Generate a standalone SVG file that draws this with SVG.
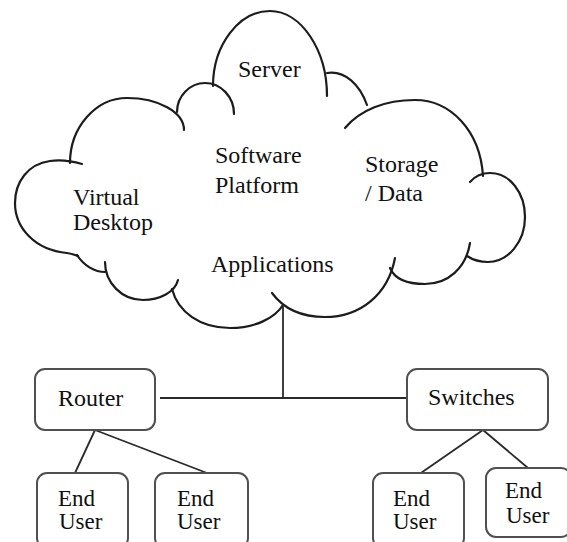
<svg xmlns="http://www.w3.org/2000/svg" width="567" height="542" viewBox="0 0 567 542">
<rect width="567" height="542" fill="#fff"/>
<g id="cloud" fill="none" stroke="#1c1c1c" stroke-width="2.2" stroke-linecap="round">
<path d="M213,86 C213,45 239,11 270,11 C301,11 327,50 327,96"/>
<path d="M177,112 C177,96 190,83 205,83 C221,83 234,97 234,114"/>
<path d="M70,163 C70,127 96,98 127,98 C158,98 184,112 184,130"/>
<path d="M82,164 Q65,159 50,161 C28,164 15,182 15,203 C15,228 35,250 67,253 Q73,254 78,256"/>
<path d="M77,255 C84,266 95,272 105,272"/>
<path d="M105,262 C105,283 122,300 143,300 C160,300 175,292 178,280"/>
<path d="M172,289 C178,312 200,328 230,328 C255,328 275,318 283,305"/>
<path d="M272,293 C283,308 300,317 325,317 C360,317 388,295 395,258"/>
<path d="M390,268 C395,280 408,284 425,284 C448,284 466,268 470,243"/>
<path d="M470,182 C476,175 483,173 490,173 C510,173 525,193 525,217 C525,242 508,262 488,262 C480,262 473,260 467,256"/>
<path d="M345,128 C360,110 385,100 415,100 C450,100 480,130 483,176"/>
<path d="M327,73 C345,70 360,85 367,105"/>
</g>
<g id="cloud-labels">
<text x="238" y="77" font-family="Liberation Serif" font-size="24" fill="#111">Server</text>
<text x="215" y="163" font-family="Liberation Serif" font-size="24" fill="#111">Software</text>
<text x="215" y="193" font-family="Liberation Serif" font-size="24" fill="#111">Platform</text>
<text x="365" y="172" font-family="Liberation Serif" font-size="24" fill="#111">Storage</text>
<text x="365" y="201" font-family="Liberation Serif" font-size="24" fill="#111">/ Data</text>
<text x="73" y="205" font-family="Liberation Serif" font-size="24" fill="#111">Virtual</text>
<text x="73" y="230" font-family="Liberation Serif" font-size="24" fill="#111">Desktop</text>
<text x="211" y="272" font-family="Liberation Serif" font-size="24" fill="#111">Applications</text>
</g>
<g id="connectors" stroke="#2a2a2a" stroke-width="1.8">
<line x1="283" y1="305" x2="283" y2="398"/>
<line x1="160" y1="398" x2="407" y2="398"/>
<line x1="95" y1="430" x2="75" y2="473"/>
<line x1="95" y1="430" x2="207" y2="473"/>
<line x1="483" y1="430" x2="418" y2="475"/>
<line x1="483" y1="430" x2="528" y2="468"/>
</g>
<g id="router">
<rect x="35" y="369" width="120" height="61" rx="10" fill="#fff" stroke="#505050" stroke-width="2"/>
<text x="58" y="406" font-family="Liberation Serif" font-size="24" fill="#111">Router</text>
</g>
<g id="switches">
<rect x="407" y="369" width="141" height="61" rx="10" fill="#fff" stroke="#505050" stroke-width="2"/>
<text x="428" y="405" font-family="Liberation Serif" font-size="24" fill="#111">Switches</text>
</g>
<g id="enduser1">
<rect x="37" y="473" width="91" height="75" rx="10" fill="#fff" stroke="#505050" stroke-width="2"/>
<text x="58" y="506" font-family="Liberation Serif" font-size="23" fill="#111">End</text>
<text x="59" y="529" font-family="Liberation Serif" font-size="23" fill="#111">User</text>
</g>
<g id="enduser2">
<rect x="155" y="473" width="93" height="75" rx="10" fill="#fff" stroke="#505050" stroke-width="2"/>
<text x="177" y="506" font-family="Liberation Serif" font-size="23" fill="#111">End</text>
<text x="177" y="529" font-family="Liberation Serif" font-size="23" fill="#111">User</text>
</g>
<g id="enduser3">
<rect x="373" y="473" width="91" height="75" rx="10" fill="#fff" stroke="#505050" stroke-width="2"/>
<text x="393" y="506" font-family="Liberation Serif" font-size="23" fill="#111">End</text>
<text x="393" y="529" font-family="Liberation Serif" font-size="23" fill="#111">User</text>
</g>
<g id="enduser4">
<rect x="486" y="468" width="85" height="69" rx="10" fill="#fff" stroke="#505050" stroke-width="2"/>
<text x="505" y="498" font-family="Liberation Serif" font-size="23" fill="#111">End</text>
<text x="506" y="523" font-family="Liberation Serif" font-size="23" fill="#111">User</text>
</g>
</svg>
